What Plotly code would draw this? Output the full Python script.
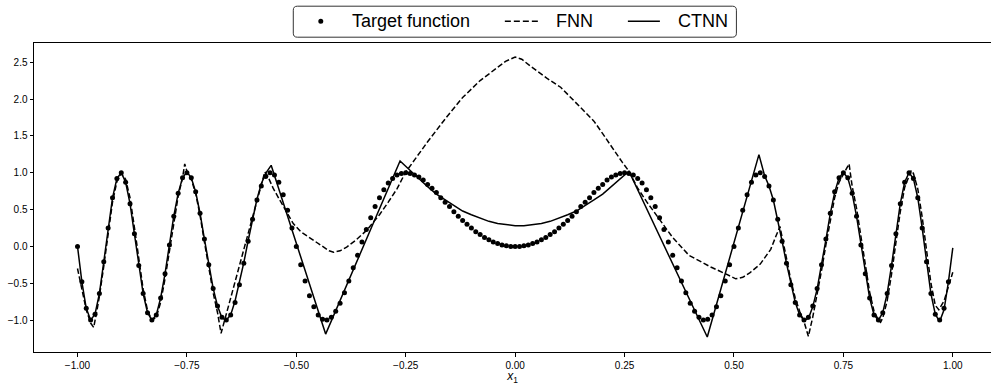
import numpy as np
import plotly.graph_objects as go

# ---------------- data ----------------
target_x = np.round(np.arange(-100, 100) / 100, 2)
target_y = [
    0.00, -0.48, -0.84, -1.00, -0.92, -0.64, -0.21, 0.25, 0.66, 0.92,
    1.00, 0.87, 0.58, 0.17, -0.26, -0.64, -0.90, -1.00, -0.93, -0.70,
    -0.37, 0.02, 0.41, 0.72, 0.93, 1.00, 0.93, 0.74, 0.45, 0.10,
    -0.25, -0.57, -0.81, -0.96, -1.00, -0.93, -0.76, -0.52, -0.23, 0.07,
    0.37, 0.63, 0.82, 0.95, 1.00, 0.97, 0.87, 0.70, 0.49, 0.25,
    0.00, -0.25, -0.47, -0.67, -0.82, -0.93, -0.99, -1.00, -0.96, -0.88,
    -0.77, -0.63, -0.47, -0.29, -0.12, 0.06, 0.23, 0.39, 0.54, 0.66,
    0.77, 0.86, 0.92, 0.97, 0.99, 1.00, 0.99, 0.97, 0.94, 0.90,
    0.84, 0.79, 0.73, 0.66, 0.60, 0.54, 0.47, 0.41, 0.35, 0.30,
    0.25, 0.20, 0.16, 0.12, 0.09, 0.06, 0.04, 0.02, 0.01, 0.00,
    0.00,
    0.00, 0.01, 0.02, 0.04, 0.06, 0.09, 0.12, 0.16, 0.20, 0.25,
    0.30, 0.35, 0.41, 0.47, 0.54, 0.60, 0.66, 0.73, 0.79, 0.84,
    0.90, 0.94, 0.97, 0.99, 1.00, 0.99, 0.97, 0.92, 0.86, 0.77,
    0.66, 0.54, 0.39, 0.23, 0.06, -0.12, -0.29, -0.47, -0.63, -0.77,
    -0.88, -0.96, -1.00, -0.99, -0.93, -0.82, -0.67, -0.47, -0.25, 0.00,
    0.25, 0.49, 0.70, 0.87, 0.97, 1.00, 0.95, 0.82, 0.63, 0.37,
    0.07, -0.23, -0.52, -0.76, -0.93, -1.00, -0.96, -0.81, -0.57, -0.25,
    0.10, 0.45, 0.74, 0.93, 1.00, 0.93, 0.72, 0.41, 0.02, -0.37,
    -0.70, -0.93, -1.00, -0.90, -0.64, -0.26, 0.17, 0.58, 0.87, 1.00,
    0.92, 0.66, 0.25, -0.21, -0.64, -0.92, -1.00, -0.84, -0.48,
]

fnn_x = [
    -1.00, -0.99, -0.98, -0.97, -0.963, -0.955, -0.95, -0.94, -0.93, -0.92,
    -0.91, -0.90, -0.89, -0.88, -0.87, -0.86, -0.85, -0.84, -0.83, -0.82,
    -0.81, -0.80, -0.79, -0.78, -0.77, -0.76, -0.755, -0.75, -0.74, -0.73,
    -0.72, -0.71, -0.70, -0.69, -0.68, -0.672, -0.65, -0.62, -0.60, -0.585,
    -0.572, -0.565, -0.553, -0.537, -0.52, -0.507, -0.49, -0.461, -0.44, -0.425,
    -0.415, -0.40, -0.385, -0.365, -0.339, -0.31, -0.29, -0.27, -0.251, -0.20,
    -0.156, -0.12, -0.08, -0.05, -0.022, 0.00, 0.015, 0.034, 0.073, 0.104,
    0.13, 0.149, 0.18, 0.20, 0.225, 0.245, 0.26, 0.279, 0.30, 0.332,
    0.36, 0.397, 0.447, 0.48, 0.504, 0.52, 0.536, 0.56, 0.584, 0.596,
    0.605, 0.62, 0.63, 0.64, 0.65, 0.66, 0.67, 0.68, 0.69, 0.70,
    0.71, 0.72, 0.73, 0.74, 0.75, 0.763, 0.77, 0.78, 0.79, 0.80,
    0.81, 0.82, 0.83, 0.835, 0.84, 0.85, 0.86, 0.87, 0.88, 0.89,
    0.90, 0.905, 0.91, 0.92, 0.93, 0.94, 0.95, 0.96, 0.968, 0.98,
    0.99, 1.00,
]
fnn_y = [
    -0.30, -0.58, -0.86, -1.04, -1.10, -0.85, -0.68, -0.27, 0.18, 0.60,
    0.88, 0.99, 0.91, 0.66, 0.26, -0.18, -0.58, -0.87, -1.00, -0.96,
    -0.76, -0.44, -0.06, 0.34, 0.68, 0.93, 1.12, 1.02, 0.91, 0.72,
    0.42, 0.06, -0.30, -0.63, -0.90, -1.18, -0.70, -0.05, 0.40, 0.74,
    1.01, 0.95, 0.79, 0.62, 0.45, 0.31, 0.20, 0.08, 0.00, -0.06,
    -0.08, -0.06, -0.01, 0.08, 0.22, 0.43, 0.60, 0.78, 1.00, 1.42,
    1.76, 2.02, 2.25, 2.39, 2.51, 2.57, 2.54, 2.45, 2.28, 2.16,
    2.00, 1.89, 1.70, 1.53, 1.31, 1.14, 1.02, 0.80, 0.61, 0.34,
    0.12, -0.12, -0.28, -0.37, -0.44, -0.42, -0.36, -0.24, -0.04, 0.14,
    0.27, -0.16, -0.46, -0.70, -0.88, -1.02, -1.22, -0.96, -0.66, -0.33,
    0.02, 0.36, 0.66, 0.87, 0.98, 1.12, 0.82, 0.52, 0.14, -0.26,
    -0.62, -0.88, -1.00, -1.03, -0.97, -0.74, -0.38, 0.05, 0.47, 0.80,
    0.97, 1.03, 0.99, 0.78, 0.40, -0.05, -0.50, -0.80, -0.86, -0.74,
    -0.55, -0.35,
]

ctnn_x = [
    -1.00, -0.99, -0.98, -0.97, -0.96, -0.95, -0.94, -0.93, -0.92, -0.91,
    -0.90, -0.89, -0.88, -0.87, -0.86, -0.85, -0.84, -0.83, -0.82, -0.81,
    -0.80, -0.79, -0.78, -0.77, -0.76, -0.75, -0.74, -0.73, -0.72, -0.71,
    -0.70, -0.69, -0.68, -0.67, -0.66, -0.65, -0.64, -0.63, -0.62, -0.61,
    -0.60, -0.59, -0.58, -0.57, -0.5575, -0.433, -0.263, -0.24, -0.22, -0.20,
    -0.18, -0.16, -0.14, -0.12, -0.10, -0.08, -0.06, -0.04, -0.02, 0.00,
    0.02, 0.04, 0.06, 0.08, 0.10, 0.12, 0.14, 0.16, 0.18, 0.20,
    0.22, 0.24, 0.26, 0.439, 0.557, 0.57, 0.58, 0.59, 0.60, 0.61,
    0.62, 0.63, 0.64, 0.65, 0.66, 0.67, 0.68, 0.69, 0.70, 0.71,
    0.72, 0.73, 0.74, 0.75, 0.76, 0.77, 0.78, 0.79, 0.80, 0.81,
    0.82, 0.83, 0.84, 0.85, 0.86, 0.87, 0.88, 0.89, 0.90, 0.91,
    0.92, 0.93, 0.94, 0.95, 0.96, 0.97, 0.98, 0.99, 1.00,
]
ctnn_y = [
    0.00, -0.48, -0.84, -1.00, -0.92, -0.64, -0.21, 0.25, 0.66, 0.92,
    1.00, 0.87, 0.58, 0.17, -0.26, -0.64, -0.90, -1.00, -0.93, -0.70,
    -0.37, 0.02, 0.41, 0.72, 0.93, 1.01, 0.93, 0.74, 0.45, 0.10,
    -0.25, -0.57, -0.81, -0.97, -1.00, -0.93, -0.74, -0.50, -0.22, 0.08,
    0.38, 0.64, 0.85, 0.99, 1.10, -1.19, 1.16, 1.03, 0.91, 0.81,
    0.71, 0.63, 0.55, 0.48, 0.43, 0.38, 0.34, 0.31, 0.29, 0.28,
    0.28, 0.29, 0.31, 0.34, 0.38, 0.43, 0.48, 0.55, 0.63, 0.71,
    0.81, 0.91, 1.02, -1.23, 1.245, 0.96, 0.82, 0.63, 0.37, 0.07,
    -0.23, -0.52, -0.76, -0.93, -1.00, -0.98, -0.82, -0.58, -0.26, 0.09,
    0.44, 0.73, 0.93, 1.00, 0.93, 0.72, 0.41, 0.02, -0.37, -0.70,
    -0.93, -1.00, -0.90, -0.64, -0.26, 0.17, 0.58, 0.87, 1.00, 0.92,
    0.66, 0.25, -0.21, -0.64, -0.92, -1.02, -0.86, -0.48, -0.02,
]

x_ticks = [-1.0, -0.75, -0.5, -0.25, 0.0, 0.25, 0.5, 0.75, 1.0]
y_ticks = [-1.0, -0.5, 0.0, 0.5, 1.0, 1.5, 2.0, 2.5]
series_names = ["Target function", "FNN", "CTNN"]

# ---------------- figure ----------------
W, H = 991, 385
L, T, B = 34.3, 43.3, 352.3
FONT = "Liberation Sans, Arial, Helvetica, sans-serif"
DASH = "5.5px,2.5px"

fig = go.Figure()
fig.add_trace(go.Scatter(
    x=target_x, y=target_y, mode="markers", name=series_names[0],
    marker=dict(color="black", size=5, line=dict(width=0)), showlegend=False))
fig.add_trace(go.Scatter(
    x=fnn_x, y=fnn_y, mode="lines", name=series_names[1],
    line=dict(color="black", width=1.5, dash=DASH), showlegend=False))
fig.add_trace(go.Scatter(
    x=ctnn_x, y=ctnn_y, mode="lines", name=series_names[2],
    line=dict(color="black", width=1.5), showlegend=False))


def px_x(p):
    return (p - L) / (W - L)


def px_y(p):
    return (B - p) / (B - T)


fig.update_layout(
    width=W, height=H, autosize=False,
    margin=dict(l=L, r=0, t=T, b=H - B, pad=0),
    paper_bgcolor="white", plot_bgcolor="white",
    font=dict(family=FONT, color="black"),
    showlegend=False,
    xaxis=dict(
        range=[-1.0994, 1.0873], tickvals=x_ticks, tickformat=".2f",
        ticks="outside", ticklen=3.5, tickwidth=0.8, tickcolor="black",
        showline=True, linecolor="black", linewidth=1, mirror=True,
        showgrid=False, zeroline=False,
        tickfont=dict(family=FONT, size=10, color="black"),
        title=dict(text="<i>x</i><sub>1</sub>", standoff=4,
                   font=dict(family=FONT, size=12, color="black")),
    ),
    yaxis=dict(
        range=[-1.433, 2.76], tickvals=y_ticks, tickformat=".1f",
        ticks="outside", ticklen=3.5, tickwidth=0.8, tickcolor="black",
        showline=True, linecolor="black", linewidth=1, mirror=False,
        showgrid=False, zeroline=False,
        tickfont=dict(family=FONT, size=10, color="black"),
    ),
)

# ---- legend (frame, handles, labels) placed above the axes ----
x0, x1 = px_x(293.5), px_x(736.5)
y0, y1 = px_y(37.5), px_y(6.5)
rx, ry = 4 / (W - L), 4 / (B - T)
path = (f"M{x0 + rx},{y1} L{x1 - rx},{y1} Q{x1},{y1} {x1},{y1 - ry} "
        f"L{x1},{y0 + ry} Q{x1},{y0} {x1 - rx},{y0} L{x0 + rx},{y0} "
        f"Q{x0},{y0} {x0},{y0 + ry} L{x0},{y1 - ry} Q{x0},{y1} {x0 + rx},{y1} Z")
fig.add_shape(type="path", path=path, xref="paper", yref="paper",
              line=dict(color="#333333", width=1), fillcolor="white",
              layer="above")

LEG_Y = 21.5
# dot handle
fig.add_shape(type="circle", xref="paper", yref="paper",
              x0=px_x(321 - 2.5), x1=px_x(321 + 2.5),
              y0=px_y(LEG_Y + 2.5), y1=px_y(LEG_Y - 2.5),
              line=dict(width=0), fillcolor="black", layer="above")
# dashed handle (4 dashes)
fig.add_shape(type="line", xref="paper", yref="paper",
              x0=px_x(505), x1=px_x(538), y0=px_y(LEG_Y), y1=px_y(LEG_Y),
              line=dict(color="black", width=1.5, dash="6px,3px"), layer="above")
# solid handle
fig.add_shape(type="line", xref="paper", yref="paper",
              x0=px_x(628), x1=px_x(660), y0=px_y(LEG_Y), y1=px_y(LEG_Y),
              line=dict(color="black", width=1.5), layer="above")

for name, px in zip(series_names, [351, 555, 677]):
    fig.add_annotation(text=name, x=px_x(px), y=px_y(LEG_Y), xref="paper",
                       yref="paper", xanchor="left", yanchor="middle",
                       showarrow=False, borderpad=0,
                       font=dict(family=FONT, size=18, color="black"))

fig.write_html("out.html")
